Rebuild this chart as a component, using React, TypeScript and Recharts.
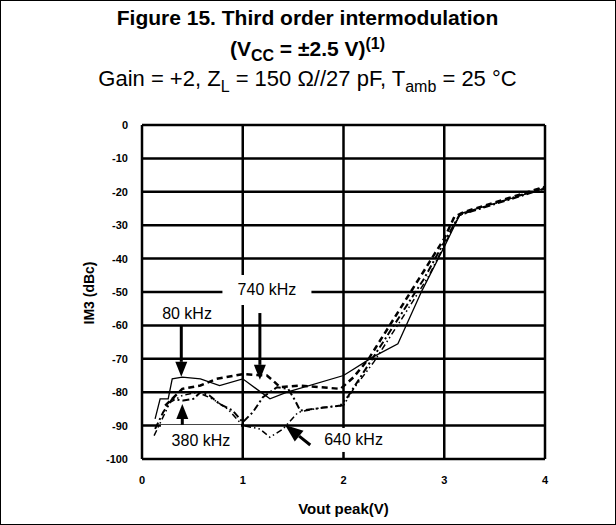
import React from "react";
import {
  LineChart,
  Line,
  XAxis,
  YAxis,
  CartesianGrid,
  ReferenceLine,
  ReferenceDot,
} from "recharts";

const xTicks = [0, 1, 2, 3, 4];
const yTicks = [0, -10, -20, -30, -40, -50, -60, -70, -80, -90, -100];

// 80 kHz, solid
const khz80 = [
  { x: 0.13, y: -88 }, { x: 0.18, y: -82 }, { x: 0.26, y: -82 }, { x: 0.3, y: -76 },
  { x: 0.4, y: -75.5 }, { x: 0.58, y: -76 }, { x: 0.77, y: -78 }, { x: 1.0, y: -76 },
  { x: 1.27, y: -82 }, { x: 1.44, y: -80 }, { x: 2.0, y: -75 }, { x: 2.29, y: -69.5 },
  { x: 2.54, y: -65.5 }, { x: 2.78, y: -49.5 }, { x: 3.0, y: -36.5 }, { x: 3.16, y: -26.5 },
  { x: 4.0, y: -19 },
];

// 380 kHz, dash-dot
const khz380 = [
  { x: 0.13, y: -91 }, { x: 0.21, y: -86 }, { x: 0.3, y: -82 }, { x: 0.41, y: -82.5 },
  { x: 0.51, y: -82 }, { x: 0.58, y: -80 }, { x: 0.67, y: -81 }, { x: 0.77, y: -83.5 },
  { x: 0.9, y: -85.5 }, { x: 1.0, y: -89 }, { x: 1.1, y: -86 }, { x: 1.2, y: -81.5 },
  { x: 1.34, y: -78.5 }, { x: 1.45, y: -79 }, { x: 1.52, y: -82.5 }, { x: 1.57, y: -85.5 },
  { x: 1.97, y: -84 }, { x: 2.05, y: -81 }, { x: 2.2, y: -74 }, { x: 2.5, y: -60 },
  { x: 2.8, y: -46 }, { x: 3.0, y: -35 }, { x: 3.15, y: -27 }, { x: 4.0, y: -19 },
];

// 640 kHz, dash-dot-dot
const khz640 = [
  { x: 0.12, y: -93 }, { x: 0.2, y: -88 }, { x: 0.28, y: -83 }, { x: 0.4, y: -81 },
  { x: 0.55, y: -80 }, { x: 0.7, y: -82 }, { x: 0.85, y: -85 }, { x: 1.0, y: -90 },
  { x: 1.17, y: -91 }, { x: 1.27, y: -93.5 }, { x: 1.4, y: -91 }, { x: 1.55, y: -86 },
  { x: 1.8, y: -84.5 }, { x: 2.0, y: -84 }, { x: 2.1, y: -79 }, { x: 2.3, y: -71 },
  { x: 2.6, y: -57 }, { x: 2.85, y: -45 }, { x: 3.0, y: -36 }, { x: 3.15, y: -27 },
  { x: 4.0, y: -18.5 },
];

// 740 kHz, bold dashed
const khz740 = [
  { x: 0.23, y: -84 }, { x: 0.3, y: -82 }, { x: 0.4, y: -79 }, { x: 0.58, y: -78 },
  { x: 0.74, y: -76 }, { x: 1.0, y: -74.6 }, { x: 1.24, y: -75 }, { x: 1.3, y: -76.5 },
  { x: 1.37, y: -78.5 }, { x: 1.57, y: -78 }, { x: 1.97, y: -79 }, { x: 2.1, y: -75.5 },
  { x: 2.25, y: -70 }, { x: 2.5, y: -58 }, { x: 2.75, y: -46 }, { x: 3.0, y: -34 },
  { x: 3.1, y: -27.5 }, { x: 3.2, y: -26 }, { x: 4.0, y: -18.5 },
];

const callouts = [
  { text: "80 kHz", x: 0.447, y: -56.3, w: 60, h: 20 },
  { text: "740 kHz", x: 1.24, y: -49.4, w: 89, h: 30 },
  { text: "380 kHz", x: 0.585, y: -94.6, w: 80, h: 32 },
  { text: "640 kHz", x: 2.1, y: -94.3, w: 80, h: 24 },
];

const arrows = [
  { from: { x: 0.39, y: -60 }, to: { x: 0.39, y: -75.4 }, head: 15, half: 6 },
  { from: { x: 1.17, y: -56.3 }, to: { x: 1.17, y: -76.3 }, head: 15, half: 6 },
  { from: { x: 0.4, y: -90.5 }, to: { x: 0.4, y: -83.5 }, head: 15, half: 6 },
  { from: { x: 1.67, y: -95.8 }, to: { x: 1.42, y: -89.8 }, head: 18, half: 7 },
];

const FONT = "Arial, 'Liberation Sans', sans-serif";

function Arrow(props: any) {
  const { x1, y1, x2, y2, head, half } = props;
  const dx = x2 - x1;
  const dy = y2 - y1;
  const len = Math.sqrt(dx * dx + dy * dy) || 1;
  const ux = dx / len;
  const uy = dy / len;
  const bx = x2 - ux * head;
  const by = y2 - uy * head;
  const pts = `${x2},${y2} ${bx - uy * half},${by + ux * half} ${bx + uy * half},${by - ux * half}`;
  return (
    <g>
      <line x1={x1} y1={y1} x2={bx} y2={by} stroke="#000" strokeWidth={3} />
      <polygon points={pts} fill="#000" />
    </g>
  );
}

function Callout(props: any) {
  const { cx, cy, text, w, h } = props;
  return (
    <g>
      <rect x={cx - w / 2} y={cy - h / 2} width={w} height={h} fill="#fff" />
      <text
        x={cx}
        y={cy}
        textAnchor="middle"
        dominantBaseline="central"
        fontFamily={FONT}
        fontSize={16}
        fill="#000"
      >
        {text}
      </text>
    </g>
  );
}

export default function App() {
  return (
    <div
      style={{
        position: "absolute",
        left: 0,
        top: 0,
        width: 616,
        height: 525,
        background: "#fff",
        border: "1.5px solid #000",
        boxSizing: "border-box",
        fontFamily: FONT,
        color: "#000",
      }}
    >
      <div style={{ position: "absolute", top: 6, left: 0, width: 613, textAlign: "center", fontSize: 21, fontWeight: "bold", lineHeight: "21px" }}>
        Figure 15. Third order intermodulation
      </div>
      <div style={{ position: "absolute", top: 32, left: 0, width: 613, textAlign: "center", fontSize: 21, fontWeight: "bold", lineHeight: "21px" }}>
        (V<sub style={{ fontSize: 16, verticalAlign: "-5px" }}>CC</sub> = ±2.5 V)
        <sup style={{ fontSize: 16, verticalAlign: "7px" }}>(1)</sup>
      </div>
      <div style={{ position: "absolute", top: 67, left: 0, width: 613, textAlign: "center", fontSize: 22, lineHeight: "22px" }}>
        Gain = +2, Z<sub style={{ fontSize: 16, verticalAlign: "-6px" }}>L</sub> = 150 Ω//27 pF, T
        <sub style={{ fontSize: 16, verticalAlign: "-6px" }}>amb</sub> = 25 °C
      </div>
      <div
        style={{
          position: "absolute",
          left: 88,
          top: 292,
          transform: "translate(-50%, -50%) rotate(-90deg)",
          fontSize: 14,
          fontWeight: "bold",
          whiteSpace: "nowrap",
        }}
      >
        IM3 (dBc)
      </div>
      <div style={{ position: "absolute", left: -1.5, top: -1.5 }}>
        <LineChart
          width={616}
          height={525}
          margin={{ top: 125, right: 71, bottom: 4, left: 102 }}
        >
          <CartesianGrid stroke="#000" strokeWidth={2.5} />
          <XAxis
            type="number"
            dataKey="x"
            domain={[0, 4]}
            ticks={xTicks}
            height={62}
            axisLine={false}
            tickLine={false}
            tickMargin={11}
            tick={{ fill: "#000", fontSize: 11, fontWeight: "bold", fontFamily: FONT }}
            label={{
              value: "Vout peak(V)",
              position: "insideBottom",
              offset: 7,
              fill: "#000",
              fontSize: 15,
              fontWeight: "bold",
              fontFamily: FONT,
            }}
          />
          <YAxis
            type="number"
            domain={[-100, 0]}
            ticks={yTicks}
            width={40}
            axisLine={false}
            tickLine={false}
            tickMargin={8}
            tick={{ fill: "#000", fontSize: 11, fontWeight: "bold", fontFamily: FONT }}
          />
          <Line data={khz80} dataKey="y" stroke="#000" strokeWidth={1.3} dot={false} isAnimationActive={false} />
          <Line data={khz380} dataKey="y" stroke="#000" strokeWidth={2} strokeDasharray="7 3 2 3" dot={false} isAnimationActive={false} />
          <Line data={khz640} dataKey="y" stroke="#000" strokeWidth={1.5} strokeDasharray="6 3 1.5 3 1.5 3" dot={false} isAnimationActive={false} />
          <Line data={khz740} dataKey="y" stroke="#000" strokeWidth={2.5} strokeDasharray="6 4" dot={false} isAnimationActive={false} />
          {callouts.map((c) => (
            <ReferenceDot
              key={c.text}
              x={c.x}
              y={c.y}
              r={1}
              shape={(p: any) => <Callout {...p} text={c.text} w={c.w} h={c.h} />}
            />
          ))}
          {arrows.map((a, i) => (
            <ReferenceLine
              key={i}
              segment={[a.from, a.to]}
              shape={(p: any) => <Arrow {...p} head={a.head} half={a.half} />}
            />
          ))}
        </LineChart>
      </div>
    </div>
  );
}
